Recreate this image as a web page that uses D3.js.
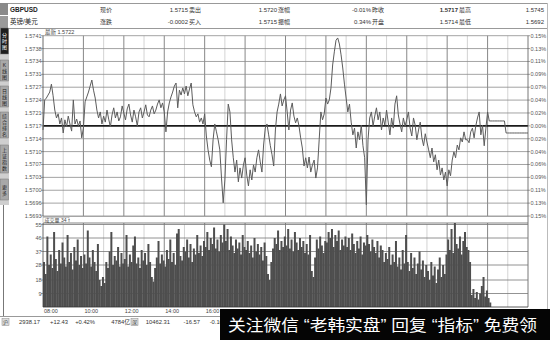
<!DOCTYPE html>
<html lang="zh">
<head>
<meta charset="UTF-8">
<script src="https://d3js.org/d3.v7.min.js"></script>
<title>GBPUSD 分时图</title>
<style>
    body { margin: 0; background: #fff; }
    svg text { font-family: "Liberation Sans", "Noto Sans CJK SC", sans-serif; }
</style>
</head>
<body>
<script>
// ---- data ----
// 5-minute price samples starting 08:00 (one row per hour)
const prices = [
    1.57159, 1.57239, 1.57244, 1.57252, 1.57260, 1.57281, 1.57250, 1.57212, 1.57191, 1.57202, 1.57175, 1.57191,
    1.57151, 1.57186, 1.57167, 1.57196, 1.57175, 1.57156, 1.57239, 1.57175, 1.57188, 1.57170, 1.57183, 1.57138,
    1.57164, 1.57234, 1.57247, 1.57260, 1.57276, 1.57292, 1.57265, 1.57244, 1.57212, 1.57191, 1.57207, 1.57175,
    1.57196, 1.57180, 1.57212, 1.57188, 1.57167, 1.57199, 1.57218, 1.57191, 1.57207, 1.57183, 1.57194, 1.57223,
    1.57204, 1.57186, 1.57215, 1.57228, 1.57199, 1.57180, 1.57212, 1.57194, 1.57170, 1.57207, 1.57218, 1.57191,
    1.57207, 1.57226, 1.57199, 1.57194, 1.57212, 1.57223, 1.57202, 1.57212, 1.57228, 1.57239, 1.57218, 1.57231,
    1.57207, 1.57154, 1.57207, 1.57231, 1.57247, 1.57260, 1.57276, 1.57284, 1.57218, 1.57265, 1.57252, 1.57271,
    1.57255, 1.57276, 1.57250, 1.57268, 1.57284, 1.57226, 1.57207, 1.57194, 1.57202, 1.57180, 1.57191, 1.57175,
    1.57202, 1.57143, 1.57106, 1.57079, 1.57061, 1.57133, 1.57175, 1.57154, 1.57133, 1.57106, 1.57031, 1.56965,
    1.57026, 1.57133, 1.57228, 1.57207, 1.57133, 1.57085, 1.57047, 1.57079, 1.57021, 1.57058, 1.57031, 1.57066,
    1.57085, 1.57039, 1.57010, 1.57053, 1.57026, 1.57066, 1.57047, 1.57085, 1.57106, 1.57074, 1.57047, 1.57119,
    1.57164, 1.57175, 1.57146, 1.57117, 1.57093, 1.57063, 1.57159, 1.57207, 1.57228, 1.57255, 1.57223, 1.57239,
    1.57250, 1.57207, 1.57159, 1.57212, 1.57231, 1.57196, 1.57178, 1.57191, 1.57170, 1.57138, 1.57111, 1.57063,
    1.57085, 1.57058, 1.57087, 1.57047, 1.57066, 1.57079, 1.57031, 1.57058, 1.57133, 1.57207, 1.57186, 1.57202,
    1.57244, 1.57228, 1.57239, 1.57271, 1.57332, 1.57367, 1.57398, 1.57404, 1.57388, 1.57359, 1.57324, 1.57281,
    1.57244, 1.57207, 1.57228, 1.57180, 1.57146, 1.57164, 1.57111, 1.57154, 1.57133, 1.57172, 1.57117, 1.57085,
    1.56960, 1.57133, 1.57191, 1.57207, 1.57170, 1.57196, 1.57218, 1.57186, 1.57207, 1.57159, 1.57191, 1.57172,
    1.57212, 1.57180, 1.57146, 1.57191, 1.57164, 1.57228, 1.57250, 1.57199, 1.57175, 1.57154, 1.57191, 1.57170,
    1.57186, 1.57207, 1.57164, 1.57143, 1.57191, 1.57172, 1.57133, 1.57159, 1.57180, 1.57138, 1.57117, 1.57149,
    1.57127, 1.57106, 1.57085, 1.57111, 1.57074, 1.57093, 1.57053, 1.57079, 1.57039, 1.57058, 1.57026, 1.57047,
    1.57010, 1.57053, 1.57037, 1.57079, 1.57101, 1.57085, 1.57119, 1.57106, 1.57138, 1.57127, 1.57154, 1.57133,
    1.57133, 1.57125, 1.57154, 1.57164, 1.57138, 1.57170, 1.57191, 1.57207, 1.57146, 1.57172, 1.57117, 1.57164,
    1.57207, 1.57183, 1.57183, 1.57183, 1.57183, 1.57183, 1.57183, 1.57183, 1.57183, 1.57183, 1.57183, 1.57151,
    1.57151, 1.57151, 1.57151, 1.57151, 1.57151, 1.57151, 1.57151, 1.57151, 1.57151, 1.57151, 1.57151, 1.57151,
    1.57151
];

// 5-minute volume samples, same start
const volumes = [
    30, 22, 47, 28, 35, 26, 50, 32, 24, 38, 29, 43,
    33, 27, 48, 30, 36, 25, 40, 31, 45, 28, 34, 26,
    35, 29, 51, 33, 27, 38, 30, 24, 42, 18, 14, 20,
    16, 30, 26, 37, 50, 28, 34, 31, 40, 27, 36, 29,
    32, 48, 27, 35, 30, 41, 47, 29, 33, 26, 38, 31,
    36, 28, 42, 30, 20, 17, 26, 33, 44, 29, 35, 31,
    27, 38, 32, 45, 30, 36, 28, 49, 52, 34, 31, 40,
    37, 45, 33, 42, 30, 39, 35, 48, 36, 41, 34, 44,
    40, 50, 38, 46, 42, 53, 39, 45, 37, 48, 43, 55,
    44, 52, 38, 47, 41, 36, 45, 39, 43, 35, 48, 40,
    38, 44, 36, 41, 33, 46, 37, 42, 35, 40, 31, 43,
    34, 22, 18, 30, 39, 46, 42, 51, 38, 44, 40, 47,
    41, 52, 39, 45, 37, 50, 43, 38, 46, 40, 44, 36,
    42, 35, 48, 24, 20, 33, 45, 39, 47, 41, 36, 44,
    43, 50, 46, 52, 40, 48, 44, 51, 38, 45, 41, 47,
    40, 46, 38, 49, 42, 36, 44, 39, 47, 35, 43, 41,
    48, 42, 37, 45, 40, 36, 44, 33, 41, 38, 30, 36,
    32, 40, 28, 35, 30, 44, 27, 33, 25, 38, 29, 48,
    30, 24, 36, 26, 33, 22, 29, 37, 25, 31, 20, 28,
    24, 18, 30, 21, 27, 16, 25, 33, 20, 28, 22, 35,
    45, 38, 52, 36, 56, 42, 39, 47, 35, 44, 50, 40,
    38, 30, 8, 12, 6, 10, 5, 9, 14, 20, 7, 11,
    6, 3
];

const priceLabels = ['1.5741', '1.5738', '1.5734', '1.5731', '1.5727', '1.5724', '1.5721', '1.5717',
    '1.5714', '1.5710', '1.5707', '1.5703', '1.5700', '1.5696', '1.5693'];
const pctLabels = ['0.15%', '0.13%', '0.11%', '0.09%', '0.07%', '0.04%', '0.02%', '0.00%',
    '0.02%', '0.04%', '0.06%', '0.09%', '0.11%', '0.13%', '0.15%'];
const volTicks = [9, 18, 28, 37, 46, 55];
const timeLabels = ['08:00', '10:00', '12:00', '14:00', '16:00', '18:00', '20:00', '22:00',
    '00:00', '02:00', '04:00', '06:00'];

const symbolNames = ['GBPUSD', '英镑/美元'];
const quoteLabels = [['现价', '卖出', '涨幅', '昨收', '最高'], ['涨跌', '买入', '振幅', '开盘', '最低']];
const quoteValues = [['1.5715', '1.5720', '-0.01%', '1.5717', '1.5745'], ['-0.0002', '1.5715', '0.34%', '1.5714', '1.5692']];
const tabNames = ['分时图', 'K线图', '日线图', '综合排名', '上证指数', '更多'];
const shIndex = ['2938.17', '+12.43', '+0.42%', '4784亿'];
const szIndex = ['10462.31', '-16.57', '-0.16%'];
const watermark = '关注微信 “老韩实盘” 回复 “指标” 免费领';

// ---- layout ----
const plot = { left: 43, right: 528, top: 35.7, bottom: 216 };
const vol = { top: 223, bottom: 307 };
const stepMin = 5;

const svg = d3.select('body').append('svg').attr('width', 550).attr('height', 340);

const x = d3.scaleLinear().domain([0, 24 * 60]).range([plot.left, plot.right]);
const y = d3.scaleLinear().domain([1.5693, 1.5741]).range([plot.bottom, plot.top]);
const gridY = d3.scaleLinear().domain([0, priceLabels.length - 1]).range([plot.top, plot.bottom]);
const yv = d3.scaleLinear().domain([0, 55]).range([vol.bottom, 224.5]);

// ---- header ----
svg.append('rect').attr('x', 0).attr('y', 3).attr('width', 8).attr('height', 12).attr('fill', '#8a8a8a');
svg.append('rect').attr('x', 0).attr('y', 16).attr('width', 8).attr('height', 12).attr('fill', '#9a9a9a');
svg.append('line').attr('x1', 8).attr('x2', 548).attr('y1', 3.5).attr('y2', 3.5).attr('stroke', '#999');
svg.append('line').attr('x1', 8).attr('x2', 548).attr('y1', 28.5).attr('y2', 28.5).attr('stroke', '#999');

const labelX = [100, 189, 278, 372, 459];
const valueX = [188, 277, 371, 458, 544];
[12, 23.5].forEach((by, r) => {
    svg.append('text').attr('x', 10).attr('y', by).attr('font-size', 6.5)
        .attr('font-weight', r === 0 ? 'bold' : 'normal').attr('fill', '#222').text(symbolNames[r]);
    quoteLabels[r].forEach((t, c) => {
        svg.append('text').attr('x', labelX[c]).attr('y', by).attr('font-size', 6)
            .attr('fill', '#333').text(t);
    });
    quoteValues[r].forEach((t, c) => {
        svg.append('text').attr('x', valueX[c]).attr('y', by).attr('font-size', 6)
            .attr('text-anchor', 'end').attr('fill', '#333')
            .attr('font-weight', r === 0 && c === 3 ? 'bold' : 'normal').text(t);
    });
});

// ---- left tab strip ----
const tabRanges = [[28, 54], [60, 81], [86, 107], [112, 138], [145, 173], [179, 200]];
svg.append('rect').attr('x', 0).attr('y', 28).attr('width', 9).attr('height', 177).attr('fill', '#cfcfcf');
svg.append('line').attr('x1', 3.5).attr('x2', 3.5).attr('y1', 205).attr('y2', 316).attr('stroke', '#777');
tabNames.forEach((name, i) => {
    const [t0, t1] = tabRanges[i];
    svg.append('rect').attr('x', 0.5).attr('y', t0).attr('width', 8).attr('height', t1 - t0)
        .attr('fill', i === 0 ? '#1e1e1e' : '#a8a8a8').attr('stroke', '#777').attr('stroke-width', 0.5);
    const chars = name.split('');
    const gap = Math.min(6, (t1 - t0 - 3) / chars.length);
    const start = (t0 + t1) / 2 - gap * chars.length / 2;
    chars.forEach((ch, k) => {
        svg.append('text').attr('x', 4.5).attr('y', start + gap * (k + 0.85))
            .attr('text-anchor', 'middle').attr('font-size', 5)
            .attr('fill', i === 0 ? '#fff' : '#222').text(ch);
    });
});

// ---- price panel ----
const gPrice = svg.append('g');
gPrice.append('text').attr('x', 45).attr('y', 33.5).attr('font-size', 5.5).attr('fill', '#444').text('最新 1.5722');

d3.range(1, 24).forEach(h => {
    gPrice.append('line')
        .attr('x1', x(h * 60)).attr('x2', x(h * 60)).attr('y1', plot.top).attr('y2', plot.bottom)
        .attr('stroke', h % 2 === 0 ? '#6a6a6a' : '#c8c8c8').attr('stroke-width', 0.8);
});
priceLabels.forEach((t, i) => {
    const gy = gridY(i);
    gPrice.append('line').attr('x1', plot.left).attr('x2', plot.right).attr('y1', gy).attr('y2', gy)
        .attr('stroke', i === 7 ? '#1a1a1a' : '#8c8c8c').attr('stroke-width', i === 7 ? 1.6 : 0.8);
    gPrice.append('line').attr('x1', plot.left - 2).attr('x2', plot.left).attr('y1', gy).attr('y2', gy)
        .attr('stroke', '#666').attr('stroke-width', 0.6);
    gPrice.append('line').attr('x1', plot.right).attr('x2', plot.right + 2).attr('y1', gy).attr('y2', gy)
        .attr('stroke', '#666').attr('stroke-width', 0.6);
    gPrice.append('text').attr('x', plot.left - 1.5).attr('y', gy + 2).attr('font-size', 5.5)
        .attr('text-anchor', 'end').attr('fill', '#555').text(t);
    gPrice.append('text').attr('x', plot.right + 2.5).attr('y', gy + 2).attr('font-size', 5.5)
        .attr('fill', '#555').text(pctLabels[i]);
});
gPrice.append('line').attr('x1', plot.left).attr('x2', plot.left).attr('y1', plot.top).attr('y2', plot.bottom)
    .attr('stroke', '#444').attr('stroke-width', 0.8);
gPrice.append('line').attr('x1', plot.right).attr('x2', plot.right).attr('y1', plot.top).attr('y2', vol.bottom)
    .attr('stroke', '#555').attr('stroke-width', 0.8);

const priceLine = d3.line().x((d, i) => x(i * stepMin)).y(d => y(d));
gPrice.append('path').datum(prices).attr('d', priceLine)
    .attr('fill', 'none').attr('stroke', '#5c5c5c').attr('stroke-width', 1);

// ---- strip between panels ----
svg.append('line').attr('x1', plot.left).attr('x2', plot.right).attr('y1', 216.5).attr('y2', 216.5).attr('stroke', '#888').attr('stroke-width', 0.6);
svg.append('line').attr('x1', plot.left).attr('x2', plot.right).attr('y1', vol.top).attr('y2', vol.top).attr('stroke', '#666').attr('stroke-width', 0.8);
svg.append('rect').attr('x', 43).attr('y', 217.5).attr('width', 26).attr('height', 5).attr('fill', '#fff')
    .attr('stroke', '#999').attr('stroke-width', 0.5);
svg.append('text').attr('x', 44.5).attr('y', 222).attr('font-size', 5).attr('fill', '#444').text('成交量 34 ↑');

// ---- volume panel ----
const gVol = svg.append('g');
d3.range(1, 24).forEach(h => {
    gVol.append('line')
        .attr('x1', x(h * 60)).attr('x2', x(h * 60)).attr('y1', vol.top).attr('y2', vol.bottom)
        .attr('stroke', h % 2 === 0 ? '#6a6a6a' : '#c8c8c8').attr('stroke-width', 0.8);
});
volTicks.forEach(v => {
    gVol.append('line').attr('x1', plot.left).attr('x2', plot.right).attr('y1', yv(v)).attr('y2', yv(v))
        .attr('stroke', '#777').attr('stroke-width', 0.8);
    gVol.append('line').attr('x1', plot.left - 2).attr('x2', plot.left).attr('y1', yv(v)).attr('y2', yv(v))
        .attr('stroke', '#666').attr('stroke-width', 0.6);
    gVol.append('text').attr('x', plot.left - 1.5).attr('y', yv(v) + 2).attr('font-size', 5.5)
        .attr('text-anchor', 'end').attr('fill', '#555').text(v);
});
gVol.selectAll('rect.bar').data(volumes).join('rect').attr('class', 'bar')
    .attr('x', (d, i) => x(i * stepMin))
    .attr('width', 2)
    .attr('y', d => yv(d))
    .attr('height', d => yv(0) - yv(d))
    .attr('fill', '#4e4e4e');
gVol.append('line').attr('x1', plot.left).attr('x2', plot.left).attr('y1', vol.top).attr('y2', vol.bottom)
    .attr('stroke', '#444').attr('stroke-width', 0.8);
gVol.append('line').attr('x1', plot.left).attr('x2', plot.right).attr('y1', vol.bottom).attr('y2', vol.bottom)
    .attr('stroke', '#333').attr('stroke-width', 0.8);

timeLabels.forEach((t, i) => {
    svg.append('text').attr('x', x(i * 120) + 1).attr('y', 313).attr('font-size', 5.5)
        .attr('fill', '#444').text(t);
});

// right frame edge
svg.append('line').attr('x1', 547.5).attr('x2', 547.5).attr('y1', 3).attr('y2', 316).attr('stroke', '#bbb');

// ---- status bar ----
svg.append('line').attr('x1', 0).attr('x2', 550).attr('y1', 316.5).attr('y2', 316.5).attr('stroke', '#999');
svg.append('rect').attr('x', 2).attr('y', 318.5).attr('width', 7).attr('height', 7).attr('fill', '#ddd').attr('stroke', '#888').attr('stroke-width', 0.5);
svg.append('text').attr('x', 5.5).attr('y', 324).attr('text-anchor', 'middle').attr('font-size', 5).attr('fill', '#333').text('沪');
const shEnd = [40, 68, 95, 130];
shIndex.forEach((t, i) => {
    svg.append('text').attr('x', shEnd[i]).attr('y', 324).attr('text-anchor', 'end')
        .attr('font-size', 5.8).attr('fill', '#333').text(t);
});
svg.append('rect').attr('x', 131).attr('y', 318.5).attr('width', 7).attr('height', 7).attr('fill', '#ddd').attr('stroke', '#888').attr('stroke-width', 0.5);
svg.append('text').attr('x', 134.5).attr('y', 324).attr('text-anchor', 'middle').attr('font-size', 5).attr('fill', '#333').text('深');
const szEnd = [170, 200, 228];
szIndex.forEach((t, i) => {
    svg.append('text').attr('x', szEnd[i]).attr('y', 324).attr('text-anchor', 'end')
        .attr('font-size', 5.8).attr('fill', '#333').text(t);
});

// ---- watermark band ----
svg.append('rect').attr('x', 220).attr('y', 309).attr('width', 330).attr('height', 31).attr('fill', '#050505');
svg.append('text').attr('x', 228).attr('y', 331).attr('font-size', 16)
    .attr('font-family', '"Noto Sans CJK SC", sans-serif')
    .attr('textLength', 309).attr('lengthAdjust', 'spacingAndGlyphs')
    .attr('fill', '#fff').text(watermark);
</script>
</body>
</html>
